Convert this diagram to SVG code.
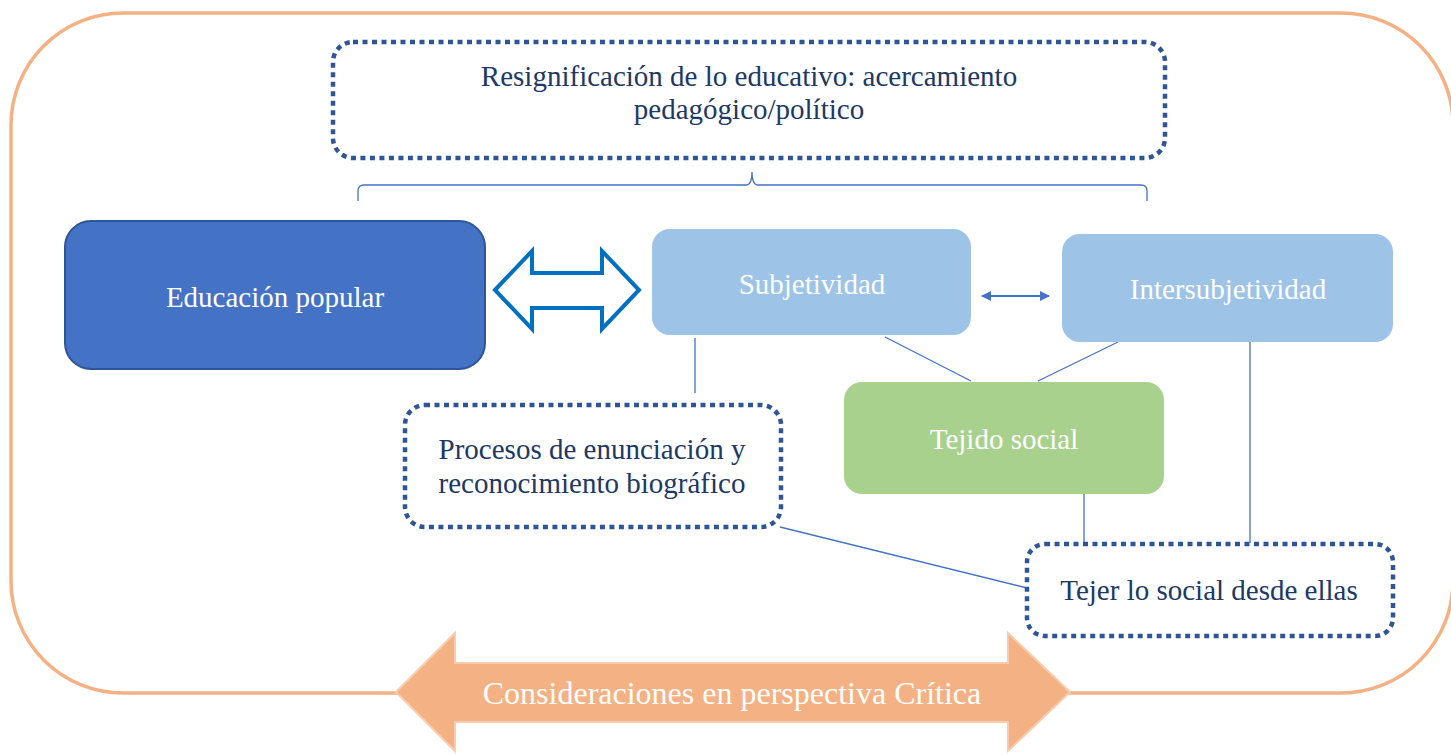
<svg xmlns="http://www.w3.org/2000/svg" width="1451" height="755" viewBox="0 0 1451 755">
<defs>
<style>
.t{font-family:"Liberation Serif","Times New Roman",serif;font-size:29px;text-anchor:middle}
.w{fill:#ffffff}
.n{fill:#203864}
.dot{fill:#ffffff;stroke:#2F5597;stroke-width:4.5;stroke-dasharray:5 4.5}
.con{stroke:#4472C4;stroke-width:1.3;fill:none}
</style>
<marker id="ah" markerWidth="10" markerHeight="10" refX="9" refY="5" orient="auto-start-reverse" markerUnits="userSpaceOnUse">
<path d="M0,0 L10,5 L0,10 Z" fill="#4472C4"/>
</marker>
</defs>
<rect width="1451" height="755" fill="#ffffff"/>
<g id="frame">
<rect x="11" y="13" width="1442" height="680" rx="112" ry="112" fill="none" stroke="#F4B183" stroke-width="3.5"/>
</g>
<g id="connectors">
<path class="con" d="M358,201 L358,191 Q358,185 364,185 L746,185 Q752,185 752,172 Q752,185 758,185 L1141,185 Q1147,185 1147,191 L1147,201"/>
<line class="con" x1="695" y1="338" x2="695" y2="393"/>
<line class="con" x1="885" y1="337" x2="971" y2="381"/>
<line class="con" x1="1118" y1="342" x2="1038" y2="381"/>
<line class="con" x1="1250" y1="342" x2="1250" y2="543"/>
<line class="con" x1="1084" y1="494" x2="1084" y2="543"/>
<line class="con" x1="780" y1="527" x2="1027" y2="588"/>
<line x1="982" y1="296" x2="1049" y2="296" stroke="#4472C4" stroke-width="2" marker-start="url(#ah)" marker-end="url(#ah)"/>
<path d="M495,290 L532,251 L532,273 L602,273 L602,251 L639,290 L602,329 L602,308 L532,308 L532,329 Z" fill="#ffffff" stroke="#0070C0" stroke-width="4" stroke-linejoin="miter"/>
</g>
<g id="top">
<rect class="dot" x="333" y="42" width="832" height="116" rx="20"/>
<text class="t n" x="749" y="86">Resignificación de lo educativo: acercamiento</text>
<text class="t n" x="749" y="119">pedagógico/político</text>
</g>
<g id="educacion">
<rect x="65" y="221" width="420" height="148" rx="26" fill="#4472C4" stroke="#2F5597" stroke-width="2"/>
<text class="t w" x="275" y="307">Educación popular</text>
</g>
<g id="subjetividad">
<rect x="652" y="229" width="319" height="106" rx="18" fill="#9DC3E6"/>
<text class="t w" x="812" y="294">Subjetividad</text>
</g>
<g id="intersubjetividad">
<rect x="1062" y="234" width="331" height="108" rx="18" fill="#9DC3E6"/>
<text class="t w" x="1228" y="299">Intersubjetividad</text>
</g>
<g id="tejido">
<rect x="844" y="382" width="320" height="112" rx="18" fill="#A9D18E"/>
<text class="t w" x="1004" y="449">Tejido social</text>
</g>
<g id="procesos">
<rect class="dot" x="405" y="405" width="376" height="122" rx="20"/>
<text class="t n" x="592" y="459">Procesos de enunciación y</text>
<text class="t n" x="592" y="493">reconocimiento biográfico</text>
</g>
<g id="tejer">
<rect class="dot" x="1027" y="544" width="366" height="92" rx="18"/>
<text class="t n" x="1209" y="600">Tejer lo social desde ellas</text>
</g>
<g id="consideraciones">
<path d="M396,692 L455,633 L455,663 L1008,663 L1008,633 L1070,692 L1008,751 L1008,722 L455,722 L455,751 Z" fill="#F4B183" stroke="#F8CBAD" stroke-width="2"/>
<text class="t w" x="732" y="704" style="font-size:32px">Consideraciones en perspectiva Crítica</text>
</g>
</svg>
